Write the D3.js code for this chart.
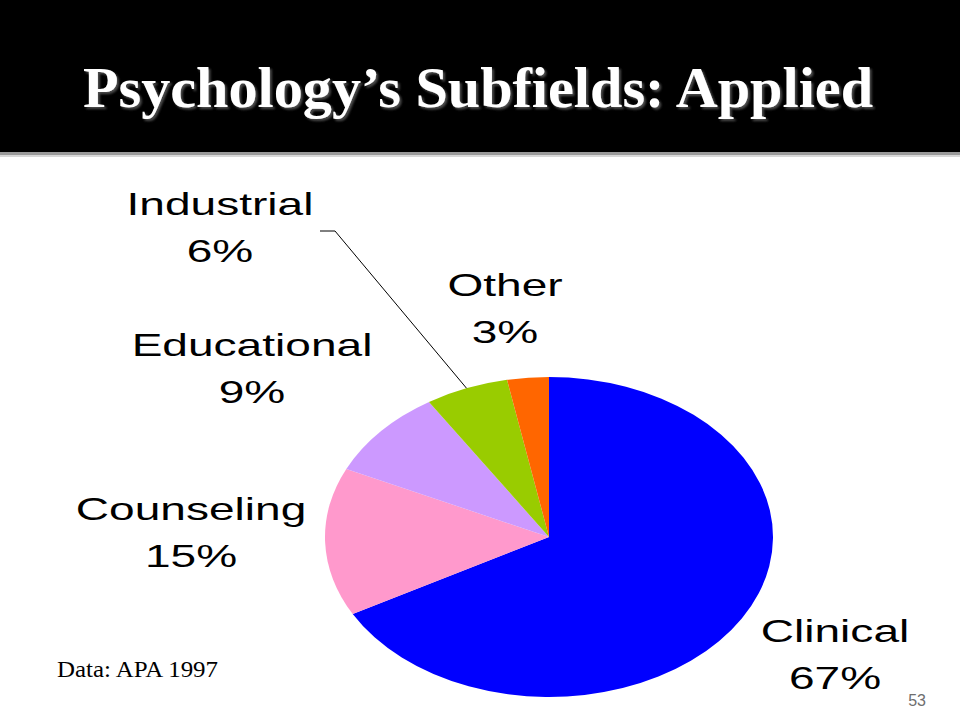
<!DOCTYPE html>
<html>
<head>
<meta charset="utf-8">
<script src="https://cdn.jsdelivr.net/npm/d3@7"></script>
<style>
  html, body { margin: 0; padding: 0; background: #fff; }
  svg { display: block; }
</style>
</head>
<body>
<svg id="chart" width="960" height="720"></svg>
<script>
// ---- data ----
const categories = ["Clinical", "Counseling", "Educational", "Industrial", "Other"];
const values = [67, 15, 9, 6, 3];
const percentLabels = ["67%", "15%", "9%", "6%", "3%"];
const colors = ["#0000FF", "#FF99CC", "#CC99FF", "#99CC00", "#FF6600"];
const titleText = "Psychology\u2019s Subfields: Applied";
const sourceText = "Data: APA 1997";
const slideNumber = "53";

// ---- layout ----
const W = 960, H = 720;
const cx = 549, cy = 537, R = 160, sx = 1.4;   // chart image stretched horizontally
const textSX = 1.44;
// label anchor positions (center x, first-line baseline y) in page coords
const labelLayout = {
  Clinical:    [835, 642],
  Counseling:  [191, 520],
  Educational: [252, 356],
  Industrial:  [220, 215],
  Other:       [505, 296]
};
const lineGap = 47;

const svg = d3.select("#chart");

const defs = svg.append("defs");
const f = defs.append("filter").attr("id", "tshadow").attr("x", "-5%").attr("y", "-20%").attr("width", "110%").attr("height", "140%");
f.append("feDropShadow").attr("dx", 2).attr("dy", 2).attr("stdDeviation", 1).attr("flood-color", "#555").attr("flood-opacity", 0.9);

// header band
svg.append("rect").attr("x", 0).attr("y", 0).attr("width", W).attr("height", 152).attr("fill", "#000");
svg.append("rect").attr("x", 0).attr("y", 152).attr("width", W).attr("height", 3).attr("fill", "#9a9a9a");
svg.append("rect").attr("x", 0).attr("y", 155).attr("width", W).attr("height", 2).attr("fill", "#d8d8d8");

// title
svg.append("text")
  .attr("x", 83).attr("y", 107)
  .attr("textLength", 790).attr("lengthAdjust", "spacingAndGlyphs")
  .attr("font-family", "'Liberation Serif', 'DejaVu Serif', serif")
  .attr("font-weight", "bold").attr("font-size", 58)
  .attr("fill", "#fff")
  .attr("filter", "url(#tshadow)")
  .text(titleText);

// pie
const data = categories.map((c, i) => ({ name: c, value: values[i], pct: percentLabels[i], color: colors[i] }));
const pie = d3.pie().value(d => d.value).sort(null).startAngle(0).endAngle(2 * Math.PI);
const arcs = pie(data);
const arc = d3.arc().innerRadius(0).outerRadius(R);

const g = svg.append("g").attr("transform", `translate(${cx},${cy}) scale(${sx},1)`);
g.selectAll("path").data(arcs).join("path")
  .attr("d", arc)
  .attr("fill", d => d.data.color);

// leader line for Industrial
const ind = arcs.find(a => a.data.name === "Industrial");
const midA = (ind.startAngle + ind.endAngle) / 2;
const px = cx + Math.sin(midA) * R * sx;
const py = cy - Math.cos(midA) * R;
svg.append("polyline")
  .attr("points", `${px},${py} 335,231 320,231`)
  .attr("fill", "none").attr("stroke", "#000").attr("stroke-width", 1);

// labels
arcs.forEach(a => {
  const [lx, ly] = labelLayout[a.data.name];
  const lg = svg.append("g");
  [a.data.name, a.data.pct].forEach((t, k) => {
    lg.append("text")
      .attr("transform", `translate(${lx},${ly + k * lineGap}) scale(${textSX},1)`)
      .attr("text-anchor", "middle")
      .attr("font-family", "'Liberation Sans', Arial, sans-serif")
      .attr("font-size", 32)
      .attr("fill", "#000")
      .text(t);
  });
});

// source
svg.append("text")
  .attr("x", 57).attr("y", 677)
  .attr("textLength", 161).attr("lengthAdjust", "spacingAndGlyphs")
  .attr("font-family", "'Liberation Serif', 'DejaVu Serif', serif")
  .attr("font-size", 23).attr("fill", "#000")
  .text(sourceText);

// slide number
svg.append("text")
  .attr("x", 926).attr("y", 706)
  .attr("text-anchor", "end")
  .attr("font-family", "'Liberation Sans Narrow', 'Liberation Sans', sans-serif")
  .attr("font-size", 16).attr("fill", "#6e6e6e")
  .text(slideNumber);
</script>
</body>
</html>
